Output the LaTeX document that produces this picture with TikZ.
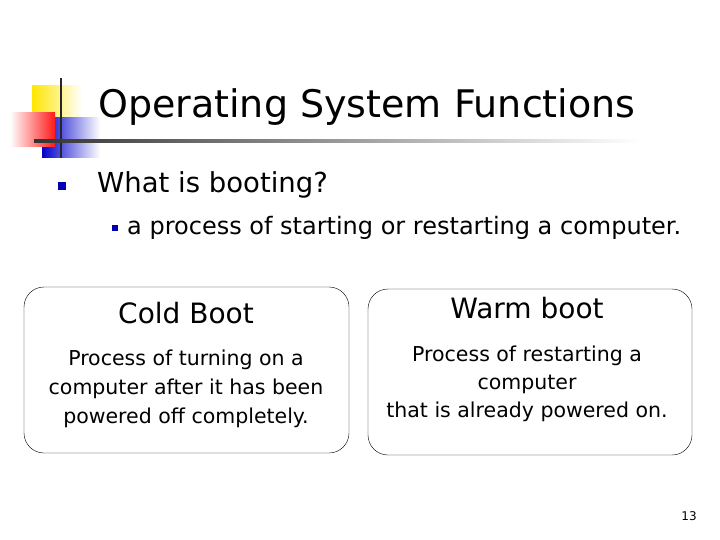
\documentclass[tikz,border=0pt]{standalone}
\usepackage{fontspec}
\setmainfont{DejaVu Sans}
\begin{document}
\begin{tikzpicture}[x=1pt,y=-1pt,
  bulletsq/.style={fill=blue!70!black,minimum size=8pt,inner sep=0pt},
  bootbox/.style={draw,rounded corners=20pt,thin}]
\useasboundingbox (0,0) rectangle (720,540);
% logo
\shade[left color=yellow!80!orange,right color=white] (32,86) rectangle (82,119);
\shade[left color=blue!80!black,right color=white] (42,118) rectangle (100,158);
\shade[left color=white,right color=red!90] (10,113) rectangle (55,147);
\draw[line width=2pt,black!85] (61,78) -- (61,158);
\shade[left color=black!80,right color=white] (34,140) rectangle (640,142.5);
% title and bullets
\node[anchor=base west,inner sep=0pt,font=\fontsize{38}{40}\selectfont] (title) at (98,118) {Operating System Functions};
\node[bulletsq] (b1) at (62,186) {};
\node[anchor=base west,inner sep=0pt,font=\fontsize{27.5}{30}\selectfont] (q) at (97,193) {What is booting?};
\node[bulletsq,minimum size=6pt] (b2) at (115,228) {};
\node[anchor=base west,font=\fontsize{24}{26}\selectfont,inner sep=0pt] (a) at (127,235) {a process of starting or restarting a computer.};
% boxes
\draw[bootbox] (24,287) rectangle (349,453);
\draw[bootbox] (368,289) rectangle (692,455);
\node[font=\fontsize{28}{30}\selectfont] (cold) at (186,313) {Cold Boot};
\node[align=center,font=\fontsize{20.5}{29}\selectfont] (coldtxt) at (186,389) {Process of turning on a\\computer after it has been\\powered off completely.};
\node[font=\fontsize{28}{30}\selectfont] (warm) at (527,308) {Warm boot};
\node[align=center,font=\fontsize{20.5}{28}\selectfont] (warmtxt) at (527,384) {Process of restarting a\\computer\\that is already powered on.};
\node[font=\fontsize{12}{15}\selectfont] (pg) at (689,516) {13};
\end{tikzpicture}
\end{document}
